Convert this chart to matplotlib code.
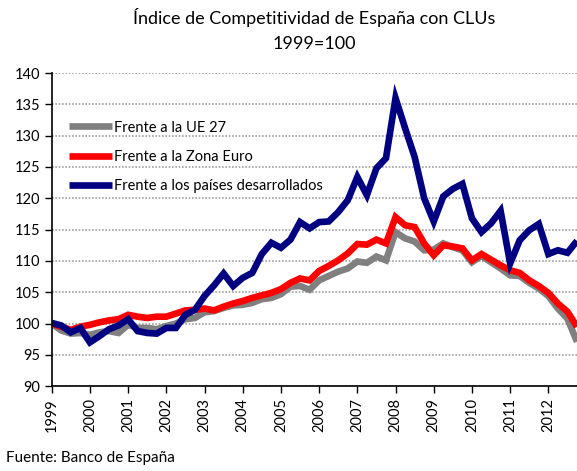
import matplotlib
matplotlib.use("Agg")
import matplotlib.pyplot as plt
import numpy as np

plt.rcParams['font.family'] = ['Lato', 'DejaVu Sans']

years = list(range(1999, 2013))
labels = ["Frente a la UE 27", "Frente a la Zona Euro", "Frente a los países desarrollados"]

ue27 = [100.0, 98.9, 98.4, 98.5, 98.2, 98.6, 98.8, 98.5, 99.8, 99.3, 99.3, 99.1,
        99.6, 100.0, 100.7, 100.9, 101.8, 102.0, 102.5, 102.9, 103.0, 103.3, 103.9, 104.1,
        104.7, 105.9, 106.0, 105.4, 106.9, 107.6, 108.3, 108.8, 109.9, 109.7, 110.7, 110.1,
        114.6, 113.6, 113.1, 111.7, 111.8, 112.8, 112.2, 111.7, 109.8, 110.8, 109.8, 108.8,
        107.7, 107.6, 106.5, 105.6, 104.4, 102.4, 100.8, 97.1]

zona_euro = [100.0, 99.5, 99.0, 99.5, 99.8, 100.2, 100.5, 100.7, 101.4, 101.1, 100.9, 101.1,
             101.1, 101.6, 102.1, 102.2, 102.4, 102.1, 102.7, 103.2, 103.6, 104.1, 104.5, 104.9,
             105.5, 106.5, 107.2, 106.9, 108.4, 109.2, 110.1, 111.2, 112.7, 112.6, 113.4, 112.8,
             117.0, 115.7, 115.4, 112.8, 110.9, 112.5, 112.3, 112.0, 110.1, 111.1, 110.2, 109.3,
             108.5, 108.1, 106.9, 106.0, 104.9, 103.2, 101.9, 99.5]

desarrollados = [100.1, 99.7, 98.6, 99.3, 97.0, 98.0, 99.1, 99.7, 100.7, 98.8, 98.5, 98.4,
                 99.3, 99.3, 101.4, 102.2, 104.4, 106.1, 108.0, 106.0, 107.3, 108.1, 111.1, 112.9,
                 112.1, 113.4, 116.2, 115.2, 116.2, 116.3, 117.8, 119.7, 123.4, 120.5, 124.8, 126.4,
                 136.0, 131.2, 126.6, 120.0, 116.3, 120.3, 121.5, 122.3, 116.8, 114.6, 116.0, 118.0,
                 109.6, 113.3, 114.9, 115.9, 111.1, 111.7, 111.3, 113.2]

series = [ue27, zona_euro, desarrollados]
colors = ["#808080", "#ff0000", "#000080"]

fig = plt.figure(figsize=(5.77, 4.71), dpi=100)
ax = fig.add_axes([0.0896, 0.180, 0.9104, 0.665])

x = np.arange(len(ue27))
for s, c, lab in zip(series, colors, labels):
    ax.plot(x, s, color=c, lw=4.8, label=lab, solid_joinstyle='miter', solid_capstyle='butt')

ax.set_xlim(0, len(ue27) - 1)
ax.set_ylim(90, 140)
ax.set_yticks(np.arange(90, 141, 5))
ax.set_xticks(np.arange(0, len(ue27), 4))
ax.set_xticklabels([str(y) for y in years], rotation=90, fontsize=10.5)
ax.tick_params(axis='y', labelsize=10.5, direction='out', length=5, width=1)
ax.tick_params(axis='x', direction='out', length=5, width=1)
ax.yaxis.grid(True, color='#a0a0a0', linestyle=(0, (1, 1)), lw=1.2)
ax.set_axisbelow(True)
for sp in ['top', 'right']:
    ax.spines[sp].set_visible(False)
ax.spines['left'].set_linewidth(1.2)
ax.spines['bottom'].set_linewidth(1.2)

leg = ax.legend(loc='upper left', bbox_to_anchor=(0.007, 0.89), frameon=False,
                fontsize=10.5, handlelength=3.0, handletextpad=0.1, labelspacing=1.05)

fig.text(0.544, 0.962, "Índice de Competitividad de España con CLUs", ha='center', va='center', fontsize=13)
fig.text(0.544, 0.907, "1999=100", ha='center', va='center', fontsize=13)
fig.text(0.01, 0.028, "Fuente: Banco de España", ha='left', va='center', fontsize=11)

fig.savefig("out.png", dpi=100)
